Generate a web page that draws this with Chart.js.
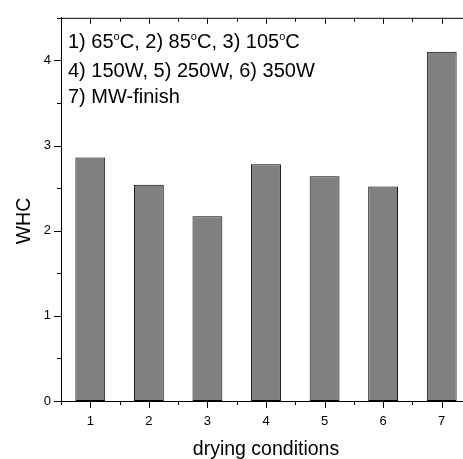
<!DOCTYPE html>
<html>
<head>
<meta charset="utf-8">
<script src="https://cdn.jsdelivr.net/npm/chart.js@4"></script>
<style>
  html, body { margin: 0; padding: 0; background: #fff; overflow: hidden; }
  #wrap { width: 463px; height: 459px; overflow: hidden; }
</style>
</head>
<body>
<div id="wrap"><canvas id="whcChart" width="480" height="459"></canvas></div>
<script>
const categories = ['1', '2', '3', '4', '5', '6', '7'];
const whcValues = [2.86, 2.54, 2.17, 2.78, 2.64, 2.52, 4.10];
const yTickValues = [0, 1, 2, 3, 4];
const yMinorValues = [0.5, 1.5, 2.5, 3.5, 4.5];
const xTitle = 'drying conditions';
const yTitle = 'WHC';
// each line is a list of [text, isSuperscript]
const noteLines = [
    [['1) 65', false], ['o', true], ['C, 2) 85', false], ['o', true], ['C, 3) 105', false], ['o', true], ['C', false]],
    [['4) 150W, 5) 250W, 6) 350W', false]],
    [['7) MW-finish', false]]
];

const FONT = "'Liberation Sans', Arial, sans-serif";

const frameTicks = {
    id: 'frameTicks',
    afterDraw(chart) {
        const ctx = chart.ctx;
        const area = chart.chartArea;
        const x = chart.scales.x;
        const y = chart.scales.y;
        ctx.save();
        ctx.strokeStyle = '#000';
        ctx.lineWidth = 1;
        ctx.beginPath();
        // top axis line
        ctx.moveTo(area.left, area.top + 0.5);
        ctx.lineTo(area.right, area.top + 0.5);
        // y ticks (outward, left)
        yTickValues.forEach(v => {
            const py = Math.round(y.getPixelForValue(v)) + 0.5;
            ctx.moveTo(area.left - 7, py); ctx.lineTo(area.left, py);
        });
        yMinorValues.forEach(v => {
            const py = Math.round(y.getPixelForValue(v)) + 0.5;
            ctx.moveTo(area.left - 4, py); ctx.lineTo(area.left, py);
        });
        // x ticks: bottom outward, top inward
        const step = x.getPixelForValue(1) - x.getPixelForValue(0);
        categories.forEach((c, i) => {
            const px = Math.round(x.getPixelForValue(i)) + 0.5;
            ctx.moveTo(px, area.bottom); ctx.lineTo(px, area.bottom + 7);
            ctx.moveTo(px, area.top); ctx.lineTo(px, area.top + 6);
            const mx = Math.round(x.getPixelForValue(i) - step / 2) + 0.5;
            ctx.moveTo(mx, area.bottom); ctx.lineTo(mx, area.bottom + 4);
            ctx.moveTo(mx, area.top); ctx.lineTo(mx, area.top + 4);
        });
        ctx.stroke();

        // y title
        ctx.fillStyle = '#000';
        ctx.font = '19.5px ' + FONT;
        ctx.textAlign = 'center';
        ctx.textBaseline = 'alphabetic';
        ctx.translate(30, 221);
        ctx.rotate(-Math.PI / 2);
        ctx.fillText(yTitle, 0, 0);
        ctx.restore();

        // note text
        ctx.save();
        ctx.fillStyle = '#000';
        ctx.textAlign = 'left';
        ctx.textBaseline = 'alphabetic';
        const baselines = [48, 76.5, 103];
        noteLines.forEach((parts, li) => {
            let cx = area.left + 7;
            parts.forEach(([t, sup]) => {
                ctx.font = (sup ? '11px ' : '20px ') + FONT;
                ctx.fillText(t, cx, baselines[li] - (sup ? 8 : 0));
                cx += ctx.measureText(t).width;
            });
        });
        ctx.restore();
    }
};

new Chart(document.getElementById('whcChart'), {
    type: 'bar',
    data: {
        labels: categories,
        datasets: [{
            data: whcValues,
            backgroundColor: '#808080',
            borderColor: '#000',
            borderWidth: 1,
            borderSkipped: false,
            categoryPercentage: 1,
            barPercentage: 0.51
        }]
    },
    options: {
        responsive: false,
        animation: false,
        devicePixelRatio: 1,
        layout: { padding: { top: 14, right: 9, left: 0, bottom: 0 } },
        plugins: { legend: { display: false }, tooltip: { enabled: false } },
        scales: {
            x: {
                offset: true,
                grid: { display: false, drawTicks: false },
                border: { display: true, color: '#000', width: 1 },
                ticks: { color: '#000', font: { family: FONT, size: 13 }, padding: 13, maxRotation: 0 },
                title: { display: true, text: xTitle, color: '#000', font: { family: FONT, size: 19.5, lineHeight: 1 }, padding: 0 },
                afterFit(scale) { scale.height = 58; }
            },
            y: {
                min: 0, max: 4.5,
                grid: { display: false, drawTicks: false },
                border: { display: true, color: '#000', width: 1 },
                ticks: { color: '#000', font: { family: FONT, size: 13 }, padding: 10 },
                afterBuildTicks(scale) { scale.ticks = yTickValues.map(v => ({ value: v })); },
                afterFit(scale) { scale.width = 61; }
            }
        }
    },
    plugins: [frameTicks]
});
</script>
</body>
</html>
